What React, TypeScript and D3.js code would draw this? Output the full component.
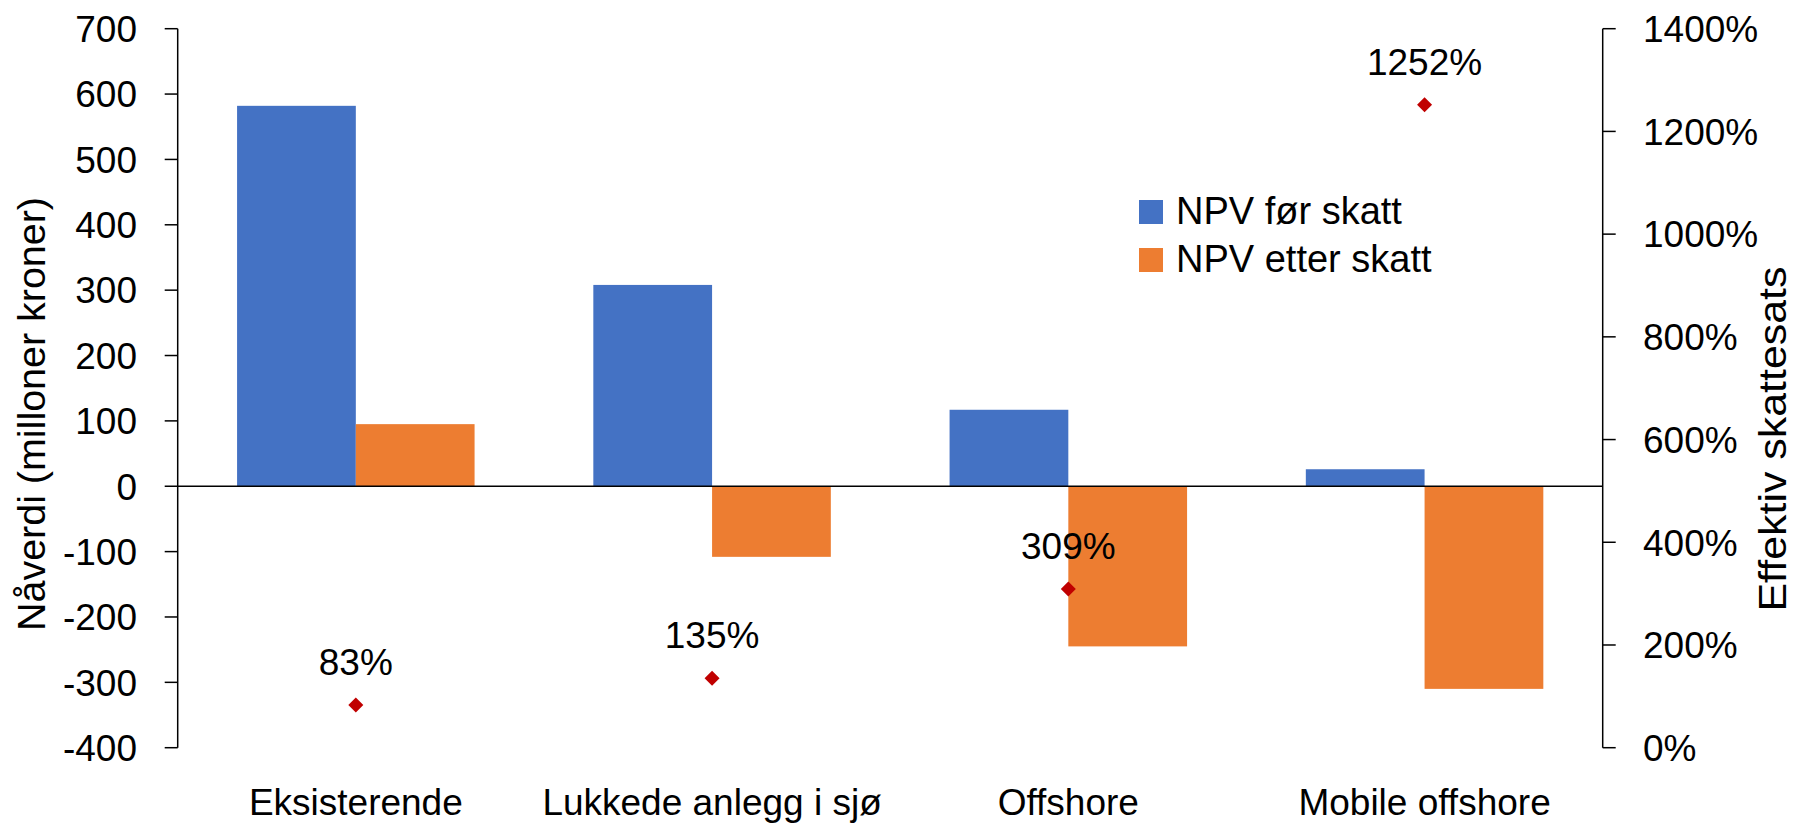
import React from "react";
import * as d3 from "d3";

const categories = ["Eksisterende", "Lukkede anlegg i sjø", "Offshore", "Mobile offshore"];
const npvBefore = [582, 308, 117, 26];
const npvAfter = [95, -108, -245, -310];
const effectiveRate = [83, 135, 309, 1252];
const rateLabels = ["83%", "135%", "309%", "1252%"];
const leftTicks = [700, 600, 500, 400, 300, 200, 100, 0, -100, -200, -300, -400];
const rightTicks = [1400, 1200, 1000, 800, 600, 400, 200, 0];
const seriesNames = ["NPV før skatt", "NPV etter skatt"];
const seriesColors = ["#4472C4", "#ED7D31"];

const W = 1793;
const H = 823;
const FONT = "'Liberation Sans', Arial, sans-serif";

export default function App() {
  const left = 177.7;
  const right = 1602.7;
  const top = 28.7;
  const bottom = 747.7;

  const x = d3.scaleBand<string>().domain(categories).range([left, right]).paddingInner(0).paddingOuter(0);
  const y = d3.scaleLinear().domain([-400, 700]).range([bottom, top]);
  const y2 = d3.scaleLinear().domain([0, 1400]).range([bottom, top]);
  const bw = x.bandwidth() / 3;
  const fs = 37;

  return (
    <svg
      width={W}
      height={H}
      style={{ position: "absolute", left: 0, top: 0, background: "#fff" }}
      fontFamily={FONT}
    >
      <rect x={0} y={0} width={W} height={H} fill="#fff" />
      {categories.map((c, i) => {
        const cx = (x(c) as number) + x.bandwidth() / 2;
        const v1 = npvBefore[i];
        const v2 = npvAfter[i];
        return (
          <g key={c}>
            <rect x={cx - bw} y={Math.min(y(v1), y(0))} width={bw} height={Math.abs(y(v1) - y(0))} fill={seriesColors[0]} />
            <rect x={cx} y={Math.min(y(v2), y(0))} width={bw} height={Math.abs(y(v2) - y(0))} fill={seriesColors[1]} />
          </g>
        );
      })}
      <line x1={left} x2={right} y1={y(0)} y2={y(0)} stroke="#000" strokeWidth={1.5} />
      <line x1={left} x2={left} y1={top} y2={bottom} stroke="#000" strokeWidth={1.5} />
      {leftTicks.map((t) => (
        <g key={"l" + t}>
          <line x1={left - 13} x2={left} y1={y(t)} y2={y(t)} stroke="#000" strokeWidth={1.5} />
          <text x={137} y={y(t)} dy="0.36em" textAnchor="end" fontSize={fs} fill="#000">
            {t}
          </text>
        </g>
      ))}
      <line x1={right} x2={right} y1={top} y2={bottom} stroke="#000" strokeWidth={1.5} />
      {rightTicks.map((t) => (
        <g key={"r" + t}>
          <line x1={right} x2={right + 13} y1={y2(t)} y2={y2(t)} stroke="#000" strokeWidth={1.5} />
          <text x={1643} y={y2(t)} dy="0.36em" textAnchor="start" fontSize={fs} fill="#000">
            {t + "%"}
          </text>
        </g>
      ))}
      {categories.map((c) => (
        <text key={"c" + c} x={(x(c) as number) + x.bandwidth() / 2} y={815} textAnchor="middle" fontSize={fs} fill="#000">
          {c}
        </text>
      ))}
      {categories.map((c, i) => {
        const cx = (x(c) as number) + x.bandwidth() / 2;
        const cy = y2(effectiveRate[i]);
        const s = 7.5;
        return (
          <g key={"m" + c}>
            <path d={`M${cx},${cy - s}L${cx + s},${cy}L${cx},${cy + s}L${cx - s},${cy}Z`} fill="#C00000" />
            <text x={cx} y={cy - 30} textAnchor="middle" fontSize={fs} fill="#000">
              {rateLabels[i]}
            </text>
          </g>
        );
      })}
      <text
        transform={`translate(45,414) rotate(-90)`}
        textAnchor="middle"
        fontSize={38}
        fill="#000"
        textLength={434}
        lengthAdjust="spacingAndGlyphs"
      >
        Nåverdi (milloner kroner)
      </text>
      <text
        transform={`translate(1786,439) rotate(-90)`}
        textAnchor="middle"
        fontSize={39}
        fill="#000"
        textLength={345}
        lengthAdjust="spacingAndGlyphs"
      >
        Effektiv skattesats
      </text>
      {seriesNames.map((n, i) => (
        <g key={"lg" + n}>
          <rect x={1139} y={200 + i * 48} width={24} height={24} fill={seriesColors[i]} />
          <text x={1176} y={224 + i * 48} fontSize={38} fill="#000">
            {n}
          </text>
        </g>
      ))}
    </svg>
  );
}
